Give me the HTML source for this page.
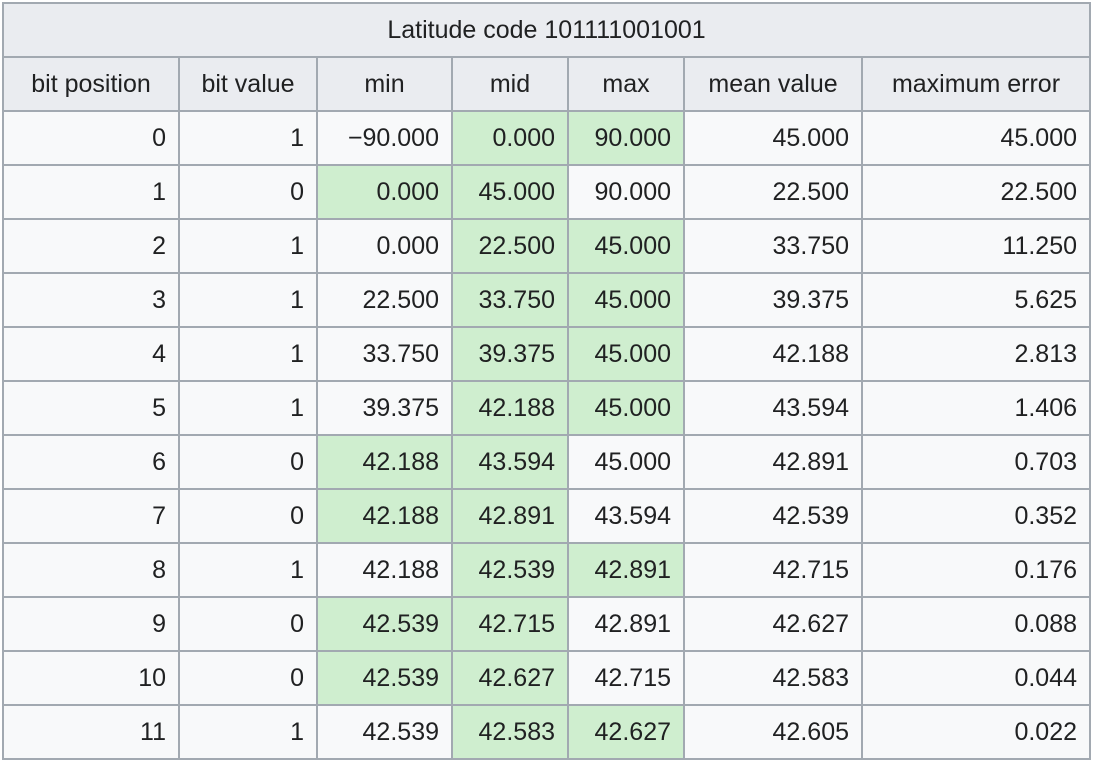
<!DOCTYPE html>
<html><head><meta charset="utf-8"><style>
html,body{margin:0;padding:0;background:#fff;width:1100px;height:762px;overflow:hidden}
table{position:absolute;left:2px;top:2px;border-collapse:collapse;table-layout:fixed;font-family:"Liberation Sans","Noto Sans CJK SC",sans-serif;font-size:25px;color:#202122}
td,th{border:2px solid #a2a9b1;padding:0 12px;height:52px;background:#f8f9fa;text-align:right;font-weight:normal;white-space:nowrap}
th{background:#eaecf0;text-align:center}
td.g{background:#cfeecf}
</style></head><body>
<table>
<colgroup><col style="width:176px"><col style="width:138px"><col style="width:135px"><col style="width:116px"><col style="width:116px"><col style="width:178px"><col style="width:228px"></colgroup>
<thead>
<tr><th colspan="7">Latitude code 101111001001</th></tr>
<tr>
<th>bit position</th>
<th>bit value</th>
<th>min</th>
<th>mid</th>
<th>max</th>
<th>mean value</th>
<th>maximum error</th>
</tr></thead>
<tbody id="tb"></tbody>
</table>
<script>
const bits=[1,0,1,1,1,1,0,0,1,0,0,1];
const mins=["−90.000","0.000","0.000","22.500","33.750","39.375","42.188","42.188","42.188","42.539","42.539","42.539"];
const mids=["0.000","45.000","22.500","33.750","39.375","42.188","43.594","42.891","42.539","42.715","42.627","42.583"];
const maxs=["90.000","90.000","45.000","45.000","45.000","45.000","45.000","43.594","42.891","42.891","42.715","42.627"];
const means=["45.000","22.500","33.750","39.375","42.188","43.594","42.891","42.539","42.715","42.627","42.583","42.605"];
const errs=["45.000","22.500","11.250","5.625","2.813","1.406","0.703","0.352","0.176","0.088","0.044","0.022"];
const tb=document.getElementById('tb');
bits.forEach((b,i)=>{
  const tr=document.createElement('tr');
  
  
  const vals=[i,b,mins[i],mids[i],maxs[i],means[i],errs[i]];
  const names=['bit-position','bit-value','min','mid','max','mean-value','maximum-error'];
  vals.forEach((v,j)=>{
    const td=document.createElement('td');
    td.textContent=v;
    
    
    if((b===1&&(j===3||j===4))||(b===0&&(j===2||j===3)))td.className='g';
    tr.appendChild(td);
  });
  tb.appendChild(tr);
});
</script>
</body></html>
